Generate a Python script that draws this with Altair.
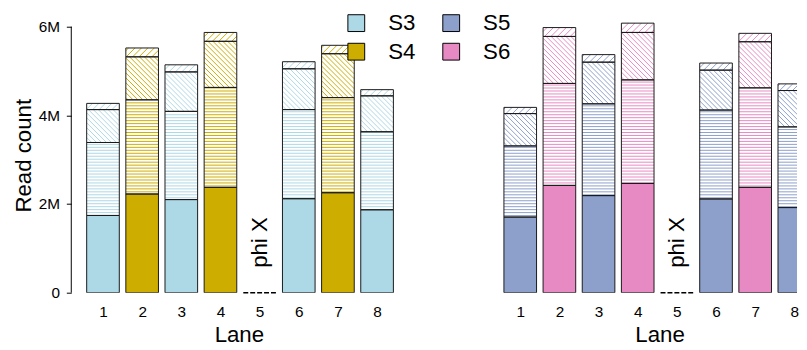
import altair as alt
import pandas as pd
import numpy as np

FONT = "Liberation Sans"

lanes = [1, 2, 3, 4, 5, 6, 7, 8]
left_samples = ["S3", "S4", "S3", "S4", "phiX", "S3", "S4", "S3"]
right_samples = ["S5", "S6", "S5", "S6", "phiX", "S5", "S6", "S5"]

# read counts per lane (millions): solid, horizontal hatch, "\\" hatch, "/" hatch
left_seg1 = [1.742, 2.226, 2.10, 2.376, 0, 2.12, 2.255, 1.87]
left_seg2 = [1.646, 2.124, 1.99, 2.254, 0, 2.01, 2.145, 1.76]
left_seg3 = [0.742, 0.97, 0.89, 1.04, 0, 0.92, 0.99, 0.81]
left_seg4 = [0.14, 0.20, 0.16, 0.20, 0, 0.16, 0.19, 0.14]

right_seg1 = [1.706, 2.42, 2.19, 2.465, 0, 2.115, 2.376, 1.92]
right_seg2 = [1.604, 2.30, 2.07, 2.335, 0, 2.005, 2.244, 1.82]
right_seg3 = [0.73, 1.06, 0.94, 1.07, 0, 0.90, 1.04, 0.82]
right_seg4 = [0.14, 0.20, 0.17, 0.21, 0, 0.16, 0.19, 0.15]

sample_names = ["S3", "S4", "S5", "S6"]
sample_colors = ["#ADD8E6", "#CDAD00", "#8DA0CB", "#E78AC3"]
COLORS = dict(zip(sample_names, sample_colors))

y_ticks = [0, 2e6, 4e6, 6e6]
phix_label = "phi X"

# layout constants
W_L, W_R, H = 339, 312, 278
X0 = 0.19
PXL = 39.6
XL1 = X0 + W_L / PXL
XR1 = X0 + W_R / PXL
YMAX = 6.2e6
PXM = H / YMAX
HALF = 0.5 / 1.2
HS2, HS3, HS4 = 3.0, 5.0, 6.5


def seg_table(samples, s1, s2, s3, s4):
    rows = []
    for i, lane in enumerate(lanes):
        base = 0.0
        for k, seg in enumerate([s1, s2, s3, s4]):
            v = seg[i] * 1e6
            rows.append(dict(x0=lane - HALF, x1=lane + HALF, lo=base, hi=base + v,
                             seg=k + 1, sample=samples[i]))
            base += v
    return pd.DataFrame(rows)


def hatch_table(seg_df):
    out = []
    for r in seg_df.itertuples():
        if r.hi <= r.lo or r.seg == 1:
            continue
        xa, xb = r.x0 * PXL, r.x1 * PXL
        ya, yb = r.lo * PXM, r.hi * PXM
        col = COLORS[r.sample]
        if r.seg == 2:
            y = (np.floor(ya / HS2) + 1) * HS2
            while y < yb - 0.5:
                out.append((xa, y, xb, y, col))
                y += HS2
        elif r.seg == 3:
            c = (np.floor((xa + ya) / HS3) + 1) * HS3
            while c < xb + yb:
                a = max(xa, c - yb)
                b = min(xb, c - ya)
                if b > a:
                    out.append((a, c - a, b, c - b, col))
                c += HS3
        else:
            c = (np.floor((ya - xb) / HS4) + 1) * HS4
            while c < yb - xa:
                a = max(xa, ya - c)
                b = min(xb, yb - c)
                if b > a:
                    out.append((a, a + c, b, b + c, col))
                c += HS4
    df = pd.DataFrame(out, columns=["px0", "py0", "px1", "py1", "col"])
    return pd.DataFrame(dict(x0=df.px0 / PXL, x1=df.px1 / PXL,
                             lo=df.py0 / PXM, hi=df.py1 / PXM, col=df.col))


legend = alt.Legend(orient="none", legendX=277, legendY=-6, columns=2,
                    title=None,
                    symbolType="square", symbolSize=289, symbolStrokeColor="black",
                    symbolStrokeWidth=1, symbolOpacity=1, labelFontSize=22.5,
                    labelFont=FONT, labelColor="black", labelOffset=21,
                    columnPadding=24, rowPadding=6, padding=0)


def panel(samples, s1, s2, s3, s4, left):
    seg = seg_table(samples, s1, s2, s3, s4)
    hat = hatch_table(seg)
    nonzero = seg[seg.hi > seg.lo]
    solid = nonzero[nonzero.seg == 1]
    totals = seg.groupby("x0", as_index=False).agg(x1=("x1", "first"), hi=("hi", "max"))
    zero = totals[totals.hi == 0].assign(lo=0.0)
    txt = zero.assign(xc=(zero.x0 + zero.x1) / 2, lo=0.56e6, label=phix_label)

    xs = alt.Scale(domain=[X0, XL1 if left else XR1], nice=False, zero=False)
    ys = alt.Scale(domain=[0, YMAX], nice=False, zero=False)
    xaxis_kw = dict(values=lanes, format="d", tickSize=0, domain=False, grid=False,
                    labelPadding=12, title="Lane", titlePadding=4)
    if not left:
        xaxis_kw["titleX"] = 173
    xaxis = alt.Axis(**xaxis_kw)
    if left:
        yenc = alt.Y("lo:Q", scale=ys, axis=alt.Axis(
            values=y_ticks, tickSize=5, domain=False, grid=False, labelPadding=7,
            labelExpr="datum.value == 0 ? '0' : (datum.value / 1000000) + 'M'",
            title="Read count", titlePadding=3))
    else:
        yenc = alt.Y("lo:Q", scale=ys, axis=None)
    xenc = alt.X("x0:Q", scale=xs, axis=xaxis)

    solid_l = alt.Chart(solid).mark_rect(clip=True).encode(
        x=xenc, x2="x1", y=yenc, y2="hi",
        color=alt.Color("sample:N", scale=alt.Scale(domain=sample_names, range=sample_colors),
                        legend=legend))
    hatch_l = alt.Chart(hat).mark_rule(strokeWidth=1, clip=True).encode(
        x=xenc, x2="x1", y=yenc, y2="hi", color=alt.Color("col:N", scale=None))
    outline_l = alt.Chart(nonzero).mark_rect(fill="transparent", stroke="#1a1a1a",
                                             strokeWidth=1, clip=True).encode(
        x=xenc, x2="x1", y=yenc, y2="hi")
    zero_l = alt.Chart(zero).mark_rule(strokeWidth=1.5, color="black",
                                       strokeDash=[5, 2]).encode(
        x=xenc, x2="x1", y=yenc)
    text_l = alt.Chart(txt).mark_text(angle=270, align="left", baseline="middle",
                                      fontSize=22.5, font=FONT, color="black").encode(
        x=alt.X("xc:Q", scale=xs, axis=xaxis), y=yenc, text="label:N")
    layers = [solid_l, hatch_l, outline_l, zero_l, text_l]
    if left:
        ax = pd.DataFrame({"lo": [y_ticks[0]], "hi": [y_ticks[-1]]})
        layers.append(alt.Chart(ax).mark_rule(color="black", strokeWidth=1).encode(
            x=alt.value(0), y=yenc, y2="hi"))
    return alt.layer(*layers).properties(width=W_L if left else W_R, height=H)


left_chart = panel(left_samples, left_seg1, left_seg2, left_seg3, left_seg4, True)
right_chart = panel(right_samples, right_seg1, right_seg2, right_seg3, right_seg4, False)

chart = alt.hconcat(left_chart, right_chart, spacing=83).resolve_scale(
    x="independent", y="independent", color="shared"
).properties(
    padding={"left": 4, "top": 2, "right": 0, "bottom": 0},
    background="white"
).configure_view(stroke=None).configure_axis(
    labelFont=FONT, titleFont=FONT, labelFontSize=15.5, titleFontSize=22.5,
    labelColor="black", titleColor="black", titleFontWeight="normal",
    tickColor="black", tickWidth=1
)

chart.save("out.html", embed_options={"renderer": "svg", "actions": False})
